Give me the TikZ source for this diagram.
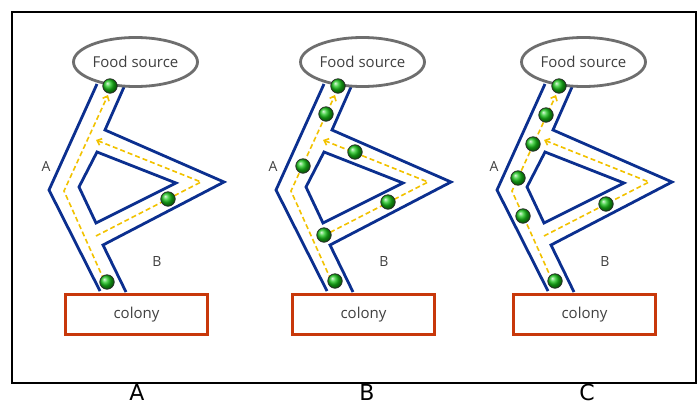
\documentclass[tikz,border=0pt]{standalone}
\usepackage{fontspec}
\setmainfont{Open Sans}
\newfontfamily\labfont{DejaVu Sans}
\usetikzlibrary{arrows.meta,shapes.geometric}
\definecolor{trail}{HTML}{0B2F8F}
\definecolor{antc}{HTML}{F2C200}
\definecolor{colonyc}{HTML}{C8380A}
\definecolor{foodc}{HTML}{6E6E6E}
\definecolor{antg}{HTML}{18C418}
\tikzset{
 trailline/.style={draw=trail, line width=2.8pt, line join=miter},
 antpath/.style={draw=antc, line width=1.6pt, dash pattern=on 5pt off 3pt, -{Straight Barb[length=4pt,width=7pt]}},
 food/.style={ellipse, draw=foodc, line width=2.8pt, fill=white, minimum width=124pt, minimum height=49pt, text=black!75, font=\fontsize{15}{17}\selectfont, inner sep=0pt},
 colonybox/.style={rectangle, draw=colonyc, line width=3pt, fill=white, minimum width=142pt, minimum height=40pt, text=black!75, font=\fontsize{15}{17}\selectfont, inner sep=0pt},
 antball/.style={circle, shading=ball, ball color=antg, draw=black!85, line width=0.7pt, minimum size=14.5pt, inner sep=0pt},
 routelab/.style={font=\fontsize{14}{16}\selectfont, text=black!75},
 panellab/.style={font=\labfont\fontsize{22}{26}\selectfont, anchor=base, inner sep=0pt}
}
\newcommand\drawpanel[3]{%
 \begin{scope}[xshift=#1pt]
  \draw[trailline] (97,84) -- (49,190) -- (100,291);
  \draw[trailline] (124,87) -- (105,130) -- (224,182) -- (103,245) -- (126,292);
  \draw[trailline] (97,152) -- (176,183) -- (96,223) -- (79,187) -- cycle;
  \draw[antpath] (104,280) -- (64,191) -- (108,95);
  \draw[antpath] (96,236) -- (201,182) -- (96,140);
  \node[food] (#2food) at (135.5,62) {Food source};
  \node[colonybox] (#2col) at (136.5,314.5) {colony};
  \node[routelab] (#2la) at (46,166) {A};
  \node[routelab] (#2lb) at (157,261) {B};
  \foreach \x/\y [count=\i] in {#3} \node[antball] (#2ant\i) at (\x,\y) {};
 \end{scope}}
\begin{document}
\begin{tikzpicture}[x=1pt,y=-1pt]
 \useasboundingbox (0,0) rectangle (697,405);
 \fill[white] (0,0) rectangle (697,405);
 \draw[line width=2pt] (12,12) rectangle (695.5,383);
 \drawpanel{0}{a}{110/86,168/199,107/282}
 \drawpanel{227}{b}{111/86,99/114,76/166,128/152,161/202,97/235,108/281}
 \drawpanel{448}{c}{111/86,98/115,85/144,70/178,75/216,158/204,107/281}
 \node[panellab] (capa) at (137,400.5) {A};
 \node[panellab] (capb) at (367,400.5) {B};
 \node[panellab] (capc) at (587,400.5) {C};
\end{tikzpicture}
\end{document}
